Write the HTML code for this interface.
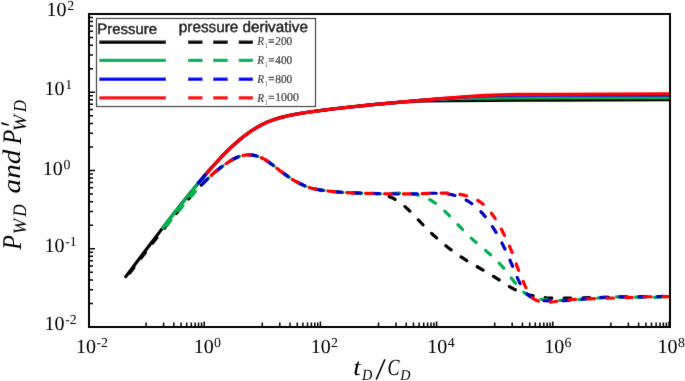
<!DOCTYPE html><html><head><meta charset="utf-8"><style>html,body{margin:0;padding:0;background:#fff;}body{width:685px;height:381px;overflow:hidden;}svg{display:block;text-rendering:geometricPrecision;}</style></head><body><div class="wrap">
<svg width="685" height="381" viewBox="0 0 685 381"><defs><filter id="bl" x="0" y="0" width="685" height="381" filterUnits="userSpaceOnUse"><feConvolveMatrix order="3" kernelMatrix="0.0052 0.0619 0.0052 0.0619 0.7314 0.0619 0.0052 0.0619 0.0052" divisor="1" edgeMode="none" preserveAlpha="false"/></filter></defs><rect width="685" height="381" fill="#fff"/><g filter="url(#bl)">
<path d="M125.80 276.60L144.94 251.21 160.04 231.38 172.83 214.84 184.45 200.11 194.90 187.20 204.20 176.11 212.33 166.81 220.47 157.98 225.12 153.19 228.60 149.73 232.09 146.41 235.57 143.23 239.06 140.20 242.55 137.34 248.36 132.95 251.84 130.55 255.33 128.34 257.65 126.97 261.14 125.08 264.62 123.36 268.11 121.82 271.60 120.45 275.08 119.23 278.57 118.15 283.22 116.88 287.86 115.79 293.67 114.61 299.48 113.57 306.46 112.46 321.56 110.37 333.18 108.94 347.13 107.35 378.00 104.18 396.50 102.55 404.50 102.00 412.50 101.55 420.00 101.22 428.50 101.00 454.00 100.66 524.00 100.27 669.50 99.69" fill="none" stroke="#000000" stroke-width="3.2" stroke-linejoin="round" stroke-linecap="round"/>
<path d="M125.80 277.80L126.40 277.36 142.62 256.09 156.56 238.11 165.86 226.34 175.14 214.88 183.32 205.10 191.35 195.85 198.44 188.10 205.24 181.11 208.83 177.64 212.32 174.42 215.72 171.46 218.23 169.40 221.59 166.80 223.83 165.20 228.58 161.97 230.91 160.51 233.31 159.16 235.54 158.03 237.84 157.06 240.20 156.24 242.62 155.59 244.82 155.15 247.06 154.92 249.56 154.89 253.04 155.22 256.47 155.93 260.02 157.13 263.41 158.73 265.79 160.10 269.34 162.44 272.74 164.98 280.99 171.49 287.90 176.43 293.54 180.14 297.24 182.23 304.21 185.62 306.52 186.58 311.03 188.05 312.48 188.45 315.90 189.18 322.55 190.32 329.50 191.21 336.71 191.90 344.94 192.48 354.18 192.94 364.67 193.30 377.42 193.60 381.38 194.17 385.03 195.01 388.59 196.20 392.01 197.72 395.52 199.65 398.66 201.69 402.08 204.22 405.54 207.09 408.49 209.79 411.53 212.76 425.51 227.41 429.59 231.46 433.58 235.25 438.60 239.76 443.55 243.97 448.63 248.02 454.03 252.07 459.97 256.23 466.48 260.44 472.48 264.04 485.08 271.21 490.47 274.39 495.13 277.31 505.37 284.02 509.84 286.78 513.55 288.85 516.92 290.50 520.59 292.08 524.34 293.46 527.69 294.51 531.07 295.40 534.49 296.15 538.43 296.84 542.14 297.34 546.12 297.73 550.36 298.00 554.86 298.17 561.86 298.22 572.11 298.08 619.10 297.03 637.10 296.72 654.10 296.62 669.50 296.76" fill="none" stroke="#000000" stroke-width="3.2" stroke-linejoin="round" stroke-linecap="round" stroke-dasharray="6.7 12.2" stroke-dashoffset="12.66"/>
<path d="M163.00 227.53L175.15 211.87 185.61 198.66 194.90 187.20 203.04 177.48 211.17 168.11 218.14 160.45 225.12 153.19 232.09 146.41 235.57 143.23 239.06 140.20 244.87 135.52 250.68 131.33 254.17 129.06 256.49 127.65 258.81 126.32 262.30 124.48 264.62 123.36 268.11 121.82 271.60 120.45 275.08 119.23 278.57 118.15 282.05 117.18 286.70 116.05 291.35 115.06 297.16 113.97 302.97 113.00 318.08 110.82 336.67 108.53 350.61 106.97 365.72 105.40 400.50 102.06 420.00 100.34 436.50 99.31 448.00 98.82 460.00 98.49 504.00 97.93 669.50 97.28" fill="none" stroke="#00b050" stroke-width="3.2" stroke-linejoin="round" stroke-linecap="round"/>
<path d="M163.00 229.94L171.61 219.21 179.71 209.37 186.84 200.99 193.80 193.13 200.61 185.81 206.42 179.95 212.26 174.48 216.99 170.40 220.32 167.76 222.73 165.97 228.51 162.02 230.84 160.56 233.23 159.20 236.83 157.46 239.17 156.58 241.32 155.92 243.50 155.40 244.98 155.13 246.22 154.98 248.47 154.88 250.72 154.96 252.95 155.21 255.41 155.67 258.76 156.66 261.31 157.69 264.42 159.29 266.99 160.85 269.26 162.39 272.67 164.93 280.91 171.43 287.83 176.38 293.67 180.23 297.16 182.19 302.76 184.95 305.27 186.08 308.79 187.36 312.39 188.43 315.81 189.16 320.24 189.96 328.41 191.08 337.87 192.00 348.34 192.67 361.08 193.20 377.33 193.59 378.05 193.79 383.05 193.71 394.04 193.27 399.04 193.15 404.04 193.21 408.53 193.49 411.51 193.82 413.98 194.20 416.43 194.69 419.10 195.36 421.49 196.08 423.84 196.93 426.15 197.89 428.41 198.96 431.90 200.91 435.03 202.98 438.61 205.71 442.40 208.96 445.51 211.86 449.42 215.73 463.92 230.92 470.12 237.09 476.06 242.45 489.43 253.73 492.60 256.57 495.50 259.32 499.00 262.89 502.50 266.80 505.98 271.07 513.00 280.17 515.96 283.89 519.40 287.86 522.38 290.88 525.02 293.17 527.47 294.91 530.09 296.36 533.10 297.58 535.50 298.28 537.95 298.80 540.91 299.26 544.63 299.69 548.37 300.02 552.36 300.24 556.61 300.37 560.86 300.38 567.36 300.23 574.60 299.85 582.08 299.31 602.01 297.68 608.00 297.29 613.49 297.04 618.99 296.91 624.49 296.91 644.99 297.38 652.99 297.42 661.48 297.16 665.47 296.89 669.50 296.48" fill="none" stroke="#00b050" stroke-width="3.2" stroke-linejoin="round" stroke-linecap="round" stroke-dasharray="6.7 12.2" stroke-dashoffset="13.04"/>
<path d="M198.30 183.10L206.52 173.41 213.50 165.52 220.47 157.98 226.28 152.02 232.09 146.41 237.90 141.20 243.71 136.42 248.36 132.95 251.84 130.55 254.17 129.06 258.81 126.32 263.46 123.91 265.79 122.83 269.27 121.35 275.08 119.23 280.89 117.49 287.86 115.79 294.84 114.39 300.65 113.38 307.62 112.29 323.89 110.07 343.64 107.74 368.04 105.16 392.00 102.86 420.00 100.37 450.50 98.07 469.50 96.89 491.00 96.00 501.00 95.76 512.00 95.61 669.50 95.04" fill="none" stroke="#0000c4" stroke-width="3.2" stroke-linejoin="round" stroke-linecap="round"/>
<path d="M200.30 186.13L204.32 182.02 208.80 177.67 212.29 174.45 215.69 171.49 219.17 168.65 221.76 166.68 224.00 165.08 229.60 161.32 232.18 159.78 235.50 158.05 237.80 157.07 240.17 156.25 242.58 155.60 245.03 155.12 247.27 154.91 249.52 154.89 253.00 155.21 256.43 155.92 257.86 156.35 259.98 157.12 262.49 158.25 265.76 160.08 269.30 162.42 272.71 164.96 279.75 170.56 281.96 172.20 287.87 176.41 292.44 179.46 294.79 180.89 297.20 182.21 301.91 184.54 304.17 185.60 306.48 186.57 309.80 187.68 312.20 188.38 315.86 189.17 319.30 189.80 323.75 190.49 332.19 191.49 342.41 192.32 354.14 192.94 364.63 193.30 384.88 193.79 401.62 194.04 413.87 193.93 431.36 193.27 438.11 193.22 442.11 193.38 446.09 193.73 449.55 194.23 452.98 194.93 455.40 195.56 458.02 196.39 460.37 197.26 462.43 198.15 464.46 199.12 466.66 200.31 469.01 201.74 470.88 202.99 472.90 204.47 475.04 206.19 476.93 207.83 478.93 209.72 481.03 211.86 482.88 213.89 486.54 218.32 490.53 223.77 494.49 229.84 498.06 235.86 501.97 243.12 505.41 250.07 508.56 256.88 511.45 263.53 516.45 275.53 518.47 280.10 520.43 284.15 522.00 287.00 523.05 288.70 524.47 290.75 525.54 292.13 527.04 293.82 528.48 295.20 530.04 296.45 531.50 297.41 533.05 298.23 534.90 298.99 536.57 299.50 538.52 299.93 541.00 300.29 544.48 300.62 548.47 300.86 552.47 300.97 556.97 300.96 562.47 300.78 568.96 300.38 575.93 299.80 594.85 298.02 600.58 297.60 606.57 297.28 613.07 297.06 620.32 296.92 644.32 296.83 653.07 296.72 661.56 296.47 669.50 296.04" fill="none" stroke="#0000c4" stroke-width="3.2" stroke-linejoin="round" stroke-linecap="round" stroke-dasharray="6.7 12.2" stroke-dashoffset="15.23"/>
<path d="M207.00 172.86L213.50 165.52 220.47 157.98 226.28 152.02 232.09 146.41 237.90 141.20 242.55 137.34 248.36 132.95 253.00 129.79 257.65 126.97 262.30 124.48 266.95 122.32 272.76 120.03 278.57 118.15 284.38 116.60 291.35 115.06 298.32 113.77 305.29 112.64 312.27 111.62 328.53 109.50 349.45 107.10 372.69 104.70 403.00 101.85 442.50 98.45 466.50 96.55 484.00 95.42 492.00 95.05 500.00 94.77 518.00 94.47 669.50 93.95" fill="none" stroke="#ff0000" stroke-width="3.2" stroke-linejoin="round" stroke-linecap="round"/>
<path d="M209.00 177.48L214.75 172.29 218.02 169.57 220.58 167.56 223.81 165.21 228.57 161.98 230.90 160.52 233.29 159.16 235.52 158.04 237.83 157.07 240.19 156.25 242.60 155.59 246.04 154.99 248.29 154.88 250.54 154.95 254.26 155.42 257.65 156.28 261.15 157.61 264.70 159.45 267.05 160.89 270.34 163.17 272.93 165.13 279.77 170.58 287.68 176.28 292.67 179.60 294.81 180.90 297.22 182.22 303.06 185.09 306.50 186.57 309.82 187.68 312.22 188.38 316.87 189.36 320.56 190.01 325.01 190.66 333.21 191.59 342.43 192.32 353.91 192.93 364.66 193.30 381.15 193.69 391.90 193.88 401.40 193.95 415.90 193.79 437.14 193.06 445.39 193.07 451.13 193.34 456.60 193.88 461.54 194.64 466.42 195.71 470.49 196.96 472.59 197.77 474.41 198.59 476.41 199.61 478.14 200.62 480.02 201.86 481.62 203.05 483.37 204.48 485.03 205.99 487.99 209.03 489.62 210.93 491.49 213.28 494.53 217.56 497.58 222.43 501.01 228.53 505.02 236.31 508.02 242.63 510.01 247.22 512.04 252.33 517.00 266.22 518.52 270.19 525.46 286.80 527.10 290.44 528.03 292.22 529.06 293.93 530.08 295.35 531.04 296.50 531.92 297.39 533.06 298.37 534.50 299.35 535.82 300.07 538.35 301.14 541.00 301.88 543.97 302.31 547.21 302.39 549.46 302.27 551.94 302.01 560.60 300.71 566.06 300.05 572.03 299.52 578.52 299.14 604.51 298.33 643.73 296.89 657.48 296.64 669.50 296.68" fill="none" stroke="#ff0000" stroke-width="3.2" stroke-linejoin="round" stroke-linecap="round" stroke-dasharray="6.7 12.2" stroke-dashoffset="15.90"/>
<path d="M146.10 326V322.60 M163.59 326V322.60 M173.82 326V322.60 M181.08 326V322.60 M186.71 326V322.60 M191.31 326V322.60 M195.20 326V322.60 M198.57 326V322.60 M201.54 326V322.60 M204.20 326V321.40 M262.30 326V322.60 M279.79 326V322.60 M290.02 326V322.60 M297.28 326V322.60 M302.91 326V322.60 M307.51 326V322.60 M311.40 326V322.60 M314.77 326V322.60 M317.74 326V322.60 M320.40 326V321.40 M378.50 326V322.60 M395.99 326V322.60 M406.22 326V322.60 M413.48 326V322.60 M419.11 326V322.60 M423.71 326V322.60 M427.60 326V322.60 M430.97 326V322.60 M433.94 326V322.60 M436.60 326V321.40 M494.70 326V322.60 M512.19 326V322.60 M522.42 326V322.60 M529.68 326V322.60 M535.31 326V322.60 M539.91 326V322.60 M543.80 326V322.60 M547.17 326V322.60 M550.14 326V322.60 M552.80 326V321.40 M610.90 326V322.60 M628.39 326V322.60 M638.62 326V322.60 M645.88 326V322.60 M651.51 326V322.60 M656.11 326V322.60 M660.00 326V322.60 M663.37 326V322.60 M666.34 326V322.60 M669.00 326V321.40 M90 327.00H95.00 M90 303.44H93.00 M90 289.67H93.00 M90 279.89H93.00 M90 272.31H93.00 M90 266.11H93.00 M90 260.87H93.00 M90 256.33H93.00 M90 252.33H93.00 M90 248.75H95.00 M90 225.19H93.00 M90 211.42H93.00 M90 201.64H93.00 M90 194.06H93.00 M90 187.86H93.00 M90 182.62H93.00 M90 178.08H93.00 M90 174.08H93.00 M90 170.50H95.00 M90 146.94H93.00 M90 133.17H93.00 M90 123.39H93.00 M90 115.81H93.00 M90 109.61H93.00 M90 104.37H93.00 M90 99.83H93.00 M90 95.83H93.00 M90 92.25H95.00 M90 68.69H93.00 M90 54.92H93.00 M90 45.14H93.00 M90 37.56H93.00 M90 31.36H93.00 M90 26.12H93.00 M90 21.58H93.00 M90 17.58H93.00" stroke="#000" stroke-width="1.5" fill="none"/>
<rect x="89" y="14" width="581" height="313" fill="none" stroke="#000" stroke-width="2"/>
<text x="76.0" y="353" font-family="Liberation Serif, serif" font-size="20" fill="#000">10<tspan font-size="13.8" dy="-6.4" dx="0.4">-2</tspan></text>
<text x="193.7" y="353" font-family="Liberation Serif, serif" font-size="20" fill="#000">10<tspan font-size="13.8" dy="-6.4" dx="0.4">0</tspan></text>
<text x="310.7" y="353" font-family="Liberation Serif, serif" font-size="20" fill="#000">10<tspan font-size="13.8" dy="-6.4" dx="0.4">2</tspan></text>
<text x="427.3" y="353" font-family="Liberation Serif, serif" font-size="20" fill="#000">10<tspan font-size="13.8" dy="-6.4" dx="0.4">4</tspan></text>
<text x="544.2" y="353" font-family="Liberation Serif, serif" font-size="20" fill="#000">10<tspan font-size="13.8" dy="-6.4" dx="0.4">6</tspan></text>
<text x="657.5" y="353" font-family="Liberation Serif, serif" font-size="20" fill="#000">10<tspan font-size="13.8" dy="-6.4" dx="0.4">8</tspan></text>
<text x="46.5" y="16.2" font-family="Liberation Serif, serif" font-size="20" fill="#000">10<tspan font-size="13.8" dy="-6.1" dx="0.8">2</tspan></text>
<text x="44.4" y="94.7" font-family="Liberation Serif, serif" font-size="20" fill="#000">10<tspan font-size="13.8" dy="-6.1" dx="0.8">1</tspan></text>
<text x="42.8" y="174.9" font-family="Liberation Serif, serif" font-size="20" fill="#000">10<tspan font-size="13.8" dy="-6.1" dx="0.8">0</tspan></text>
<text x="44.4" y="251.7" font-family="Liberation Serif, serif" font-size="20" fill="#000">10<tspan font-size="13.8" dy="-6.1" dx="0.8">-1</tspan></text>
<text x="44.4" y="330.4" font-family="Liberation Serif, serif" font-size="20" fill="#000">10<tspan font-size="13.8" dy="-6.1" dx="0.8">-2</tspan></text>
<text transform="translate(353.20 374.96) scale(1.134 1)" font-family="Liberation Serif, serif" font-style="italic" font-size="24.26" fill="#000">t</text>
<text transform="translate(361.97 379.87) scale(0.921 1)" font-family="Liberation Serif, serif" font-style="italic" font-size="15.53" fill="#000">D</text>
<text transform="translate(387.50 374.99) scale(0.780 1)" font-family="Liberation Serif, serif" font-style="italic" font-size="23.10" fill="#000">C</text>
<text transform="translate(400.27 379.67) scale(0.960 1)" font-family="Liberation Serif, serif" font-style="italic" font-size="14.76" fill="#000">D</text>
<path d="M376.2 379.6L384.9 359.4" stroke="#000" stroke-width="1.5" fill="none"/>
<g transform="translate(0 381) rotate(-90)"><text transform="translate(131.14 20.90) scale(0.888 1)" font-family="Liberation Serif, serif" font-style="italic" font-size="27.02" fill="#000">P</text><text transform="translate(146.80 25.52) scale(0.983 1)" font-family="Liberation Serif, serif" font-style="italic" font-size="18.81" fill="#000">W</text><text transform="translate(164.31 26.26) scale(0.902 1)" font-family="Liberation Serif, serif" font-style="italic" font-size="19.03" fill="#000">D</text><text transform="translate(187.60 19.65) scale(1.155 1)" font-family="Liberation Serif, serif" font-style="italic" font-size="25.28" fill="#000">and</text><text transform="translate(236.74 20.70) scale(0.892 1)" font-family="Liberation Serif, serif" font-style="italic" font-size="26.72" fill="#000">P</text><text transform="translate(249.80 26.02) scale(1.055 1)" font-family="Liberation Serif, serif" font-style="italic" font-size="18.66" fill="#000">W</text><text transform="translate(268.90 26.26) scale(0.903 1)" font-family="Liberation Serif, serif" font-style="italic" font-size="18.26" fill="#000">D</text></g>
<path d="M1.2 122.1L8.9 124.5L8.8 125.7L1.6 124.3Z" fill="#000"/>
<rect x="96.5" y="18.5" width="219" height="88" fill="#fff" stroke="#333" stroke-width="1.2"/>
<text x="97.2" y="33.5" font-family="Liberation Sans, sans-serif" font-size="15" fill="#000" stroke="#000" stroke-width="0.45">Pressure</text>
<text x="178.8" y="32" font-family="Liberation Sans, sans-serif" font-size="15.3" fill="#000" stroke="#000" stroke-width="0.45">pressure derivative</text>
<path d="M99.3 42.3H166" stroke="#000" stroke-width="3.4"/>
<path d="M188 42.3H202.5M213.2 42.3H227.7M238.7 42.3H253" stroke="#000" stroke-width="3.4"/>
<g fill="#2a2a2a" font-family="Liberation Serif, serif"><text transform="translate(257.37 45.10) scale(0.916 1)" font-style="italic" font-size="12.2" stroke="#2a2a2a" stroke-width="0.2">R</text><text transform="translate(264.9 48.40) scale(0.6 1)" font-size="7.6">1</text><path d="M268.6 39.80H274.1M268.6 42.10H274.1" stroke="#2a2a2a" stroke-width="1.1"/><text transform="translate(275.2 45.00) scale(0.962 1)" font-size="11.85" stroke="#2a2a2a" stroke-width="0.2">200</text></g>
<path d="M99.3 60.4H166" stroke="#00b050" stroke-width="3.4"/>
<path d="M188 60.4H202.5M213.2 60.4H227.7M238.7 60.4H253" stroke="#00b050" stroke-width="3.4"/>
<g fill="#2a2a2a" font-family="Liberation Serif, serif"><text transform="translate(257.37 64.00) scale(0.916 1)" font-style="italic" font-size="12.2" stroke="#2a2a2a" stroke-width="0.2">R</text><text transform="translate(264.9 67.30) scale(0.6 1)" font-size="7.6">1</text><path d="M268.6 58.70H274.1M268.6 61.00H274.1" stroke="#2a2a2a" stroke-width="1.1"/><text transform="translate(275.2 63.90) scale(0.962 1)" font-size="11.85" stroke="#2a2a2a" stroke-width="0.2">400</text></g>
<path d="M99.3 79.2H166" stroke="#0000ff" stroke-width="3.4"/>
<path d="M188 79.2H202.5M213.2 79.2H227.7M238.7 79.2H253" stroke="#0000ff" stroke-width="3.4"/>
<g fill="#2a2a2a" font-family="Liberation Serif, serif"><text transform="translate(257.37 82.70) scale(0.916 1)" font-style="italic" font-size="12.2" stroke="#2a2a2a" stroke-width="0.2">R</text><text transform="translate(264.9 86.00) scale(0.6 1)" font-size="7.6">1</text><path d="M268.6 77.40H274.1M268.6 79.70H274.1" stroke="#2a2a2a" stroke-width="1.1"/><text transform="translate(275.2 82.60) scale(0.962 1)" font-size="11.85" stroke="#2a2a2a" stroke-width="0.2">800</text></g>
<path d="M99.3 97.9H166" stroke="#ff0000" stroke-width="3.4"/>
<path d="M188 97.9H202.5M213.2 97.9H227.7M238.7 97.9H253" stroke="#ff0000" stroke-width="3.4"/>
<g fill="#2a2a2a" font-family="Liberation Serif, serif"><text transform="translate(257.37 101.50) scale(0.916 1)" font-style="italic" font-size="12.2" stroke="#2a2a2a" stroke-width="0.2">R</text><text transform="translate(264.9 104.80) scale(0.6 1)" font-size="7.6">1</text><path d="M268.6 96.20H274.1M268.6 98.50H274.1" stroke="#2a2a2a" stroke-width="1.1"/><text transform="translate(275.2 101.40) scale(0.996 1)" font-size="11.85" stroke="#2a2a2a" stroke-width="0.2">1000</text></g>
</g></svg></div></body></html>
